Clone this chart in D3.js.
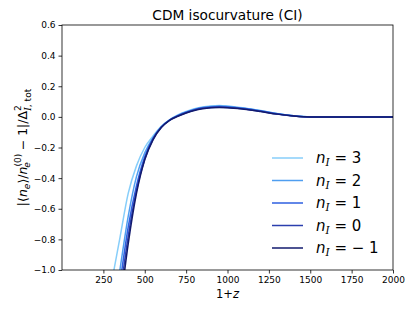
<!DOCTYPE html>
<html>
<head>
<meta charset="utf-8">
<script src="https://cdn.jsdelivr.net/npm/d3@7.9.0/dist/d3.min.js"></script>
<style>
  body { margin: 0; background: #fff; }
  svg { font-family: "DejaVu Sans", sans-serif; }
</style>
</head>
<body>
<svg width="415" height="311"></svg>
<script>
// sample points in 1+z
const zGrid = [250, 300, 350, 400, 450, 500, 550, 600, 650, 700, 750, 800, 850, 900, 950, 1000, 1100, 1200, 1300, 1400, 1500, 1600, 1800, 2000];

const seriesLabels = ['3', '2', '1', '0', '\u2212 1'];
const seriesColors = ['#87cefa', '#4f9ef0', '#2e5fe0', '#2b3fae', '#121a6e'];

const nMinus1 = [-2.1, -1.68, -1.25, -0.83, -0.5, -0.28, -0.15, -0.07, -0.023, 0.004, 0.025, 0.042, 0.053, 0.059, 0.061, 0.06, 0.05, 0.035, 0.018, 0.006, 0.0, 0, 0, 0];
const n0 = [-2.0, -1.6, -1.17, -0.78, -0.48, -0.275, -0.145, -0.068, -0.022, 0.006, 0.027, 0.045, 0.056, 0.062, 0.064, 0.062, 0.052, 0.036, 0.019, 0.006, 0.0, 0, 0, 0];
const n1 = [-1.9, -1.5, -1.09, -0.72, -0.45, -0.26, -0.14, -0.066, -0.021, 0.008, 0.03, 0.047, 0.059, 0.065, 0.067, 0.065, 0.054, 0.038, 0.02, 0.007, 0.0, 0, 0, 0];
const n2 = [-1.78, -1.38, -1.0, -0.65, -0.39, -0.235, -0.135, -0.064, -0.02, 0.01, 0.032, 0.05, 0.062, 0.068, 0.071, 0.068, 0.056, 0.04, 0.021, 0.007, 0.0, 0, 0, 0];
const n3 = [-1.38, -1.08, -0.79, -0.5, -0.32, -0.2, -0.125, -0.062, -0.019, 0.012, 0.035, 0.053, 0.065, 0.071, 0.074, 0.071, 0.058, 0.041, 0.022, 0.007, 0.0, 0, 0, 0];
const seriesValues = [n3, n2, n1, n0, nMinus1];

const xTicks = [250, 500, 750, 1000, 1250, 1500, 1750, 2000];
const yTicks = [-1.0, -0.8, -0.6, -0.4, -0.2, 0.0, 0.2, 0.4, 0.6];

const margin = { left: 62, right: 22, top: 25, bottom: 41 };
const width = 415, height = 311;

const svg = d3.select('svg');

const x = d3.scaleLinear().domain([0, 2000]).range([margin.left, width - margin.right]);
const y = d3.scaleLinear().domain([-1, 0.6]).range([height - margin.bottom, margin.top]);

svg.append('defs').append('clipPath').attr('id', 'clip')
  .append('rect')
  .attr('x', margin.left).attr('y', margin.top)
  .attr('width', width - margin.left - margin.right)
  .attr('height', height - margin.top - margin.bottom);

let line = d3.line()
  .x((d) => x(d[0]))
  .y((d) => y(d[1]))
  .curve(d3.curveMonotoneX);

const plot = svg.append('g').attr('clip-path', 'url(#clip)');
seriesValues.forEach((vals, i) => {
  plot.append('path')
    .attr('d', line(zGrid.map((z, j) => [z, vals[j]])))
    .attr('fill', 'none')
    .attr('stroke', seriesColors[i])
    .attr('stroke-width', 1.5);
});

// frame
svg.append('rect')
  .attr('x', margin.left).attr('y', margin.top)
  .attr('width', width - margin.left - margin.right)
  .attr('height', height - margin.top - margin.bottom)
  .attr('fill', 'none').attr('stroke', '#000').attr('stroke-width', 0.8);

const fmtY = (d) => d3.format('.1f')(d).replace('-', '\u2212');

const xAxis = svg.append('g')
  .attr('transform', `translate(0,${height - margin.bottom})`)
  .call(d3.axisBottom(x).tickValues(xTicks).tickSize(3.5).tickPadding(3).tickFormat(d3.format('d')));
const yAxis = svg.append('g')
  .attr('transform', `translate(${margin.left},0)`)
  .call(d3.axisLeft(y).tickValues(yTicks).tickSize(3.5).tickPadding(3).tickFormat(fmtY));
[xAxis, yAxis].forEach((g) => {
  g.select('.domain').remove();
  g.selectAll('text').attr('font-size', 9).attr('font-family', 'DejaVu Sans').attr('fill', '#000');
  g.selectAll('line').attr('stroke', '#000').attr('stroke-width', 0.8);
});

// title
svg.append('text')
  .attr('x', (margin.left + width - margin.right) / 2).attr('y', 20)
  .attr('text-anchor', 'middle').attr('font-size', 13.7)
  .text('CDM isocurvature (CI)');

// x label
const xl = svg.append('text')
  .attr('x', (margin.left + width - margin.right) / 2).attr('y', 298)
  .attr('text-anchor', 'middle').attr('font-size', 11.5);
xl.append('tspan').text('1+');
xl.append('tspan').attr('font-style', 'italic').text('z');

// y label
const yl = svg.append('text')
  .attr('transform', `translate(27,${(margin.top + height - margin.bottom) / 2}) rotate(-90)`)
  .attr('text-anchor', 'middle').attr('font-size', 12.5);
yl.append('tspan').text('|\u27e8');
yl.append('tspan').attr('font-style', 'italic').text('n');
yl.append('tspan').attr('font-style', 'italic').attr('font-size', 9).attr('dy', 3).text('e');
yl.append('tspan').attr('dy', -3).text('\u27e9/');
yl.append('tspan').attr('font-style', 'italic').text('n');
yl.append('tspan').attr('font-size', 9).attr('dy', -6).text('(0)');
yl.append('tspan').attr('font-style', 'italic').attr('font-size', 9).attr('dx', -14).attr('dy', 9).text('e');
yl.append('tspan').attr('dx', 8).attr('dy', -3).text(' \u2212 1|/\u0394');
yl.append('tspan').attr('font-size', 9).attr('dy', -6).text('2');
const sub = yl.append('tspan').attr('font-size', 9).attr('dx', -5.5).attr('dy', 10);
sub.append('tspan').attr('font-family', 'DejaVu Serif').attr('font-style', 'italic').text('I');
sub.append('tspan').text(', tot');

// legend
const legend = svg.append('g');
seriesLabels.forEach((lab, i) => {
  const ly = 158 + i * 22.5;
  legend.append('line')
    .attr('x1', 272).attr('x2', 303).attr('y1', ly).attr('y2', ly)
    .attr('stroke', seriesColors[i]).attr('stroke-width', 1.5);
  const t = legend.append('text').attr('x', 316).attr('y', ly + 5).attr('font-size', 15);
  t.append('tspan').attr('font-style', 'italic').text('n');
  t.append('tspan').attr('font-size', 10.5).attr('dy', 3).attr('font-family', 'DejaVu Serif').attr('font-style', 'italic').text('I');
  t.append('tspan').attr('dy', -3).text(' = ' + lab);
});
</script>
</body>
</html>
